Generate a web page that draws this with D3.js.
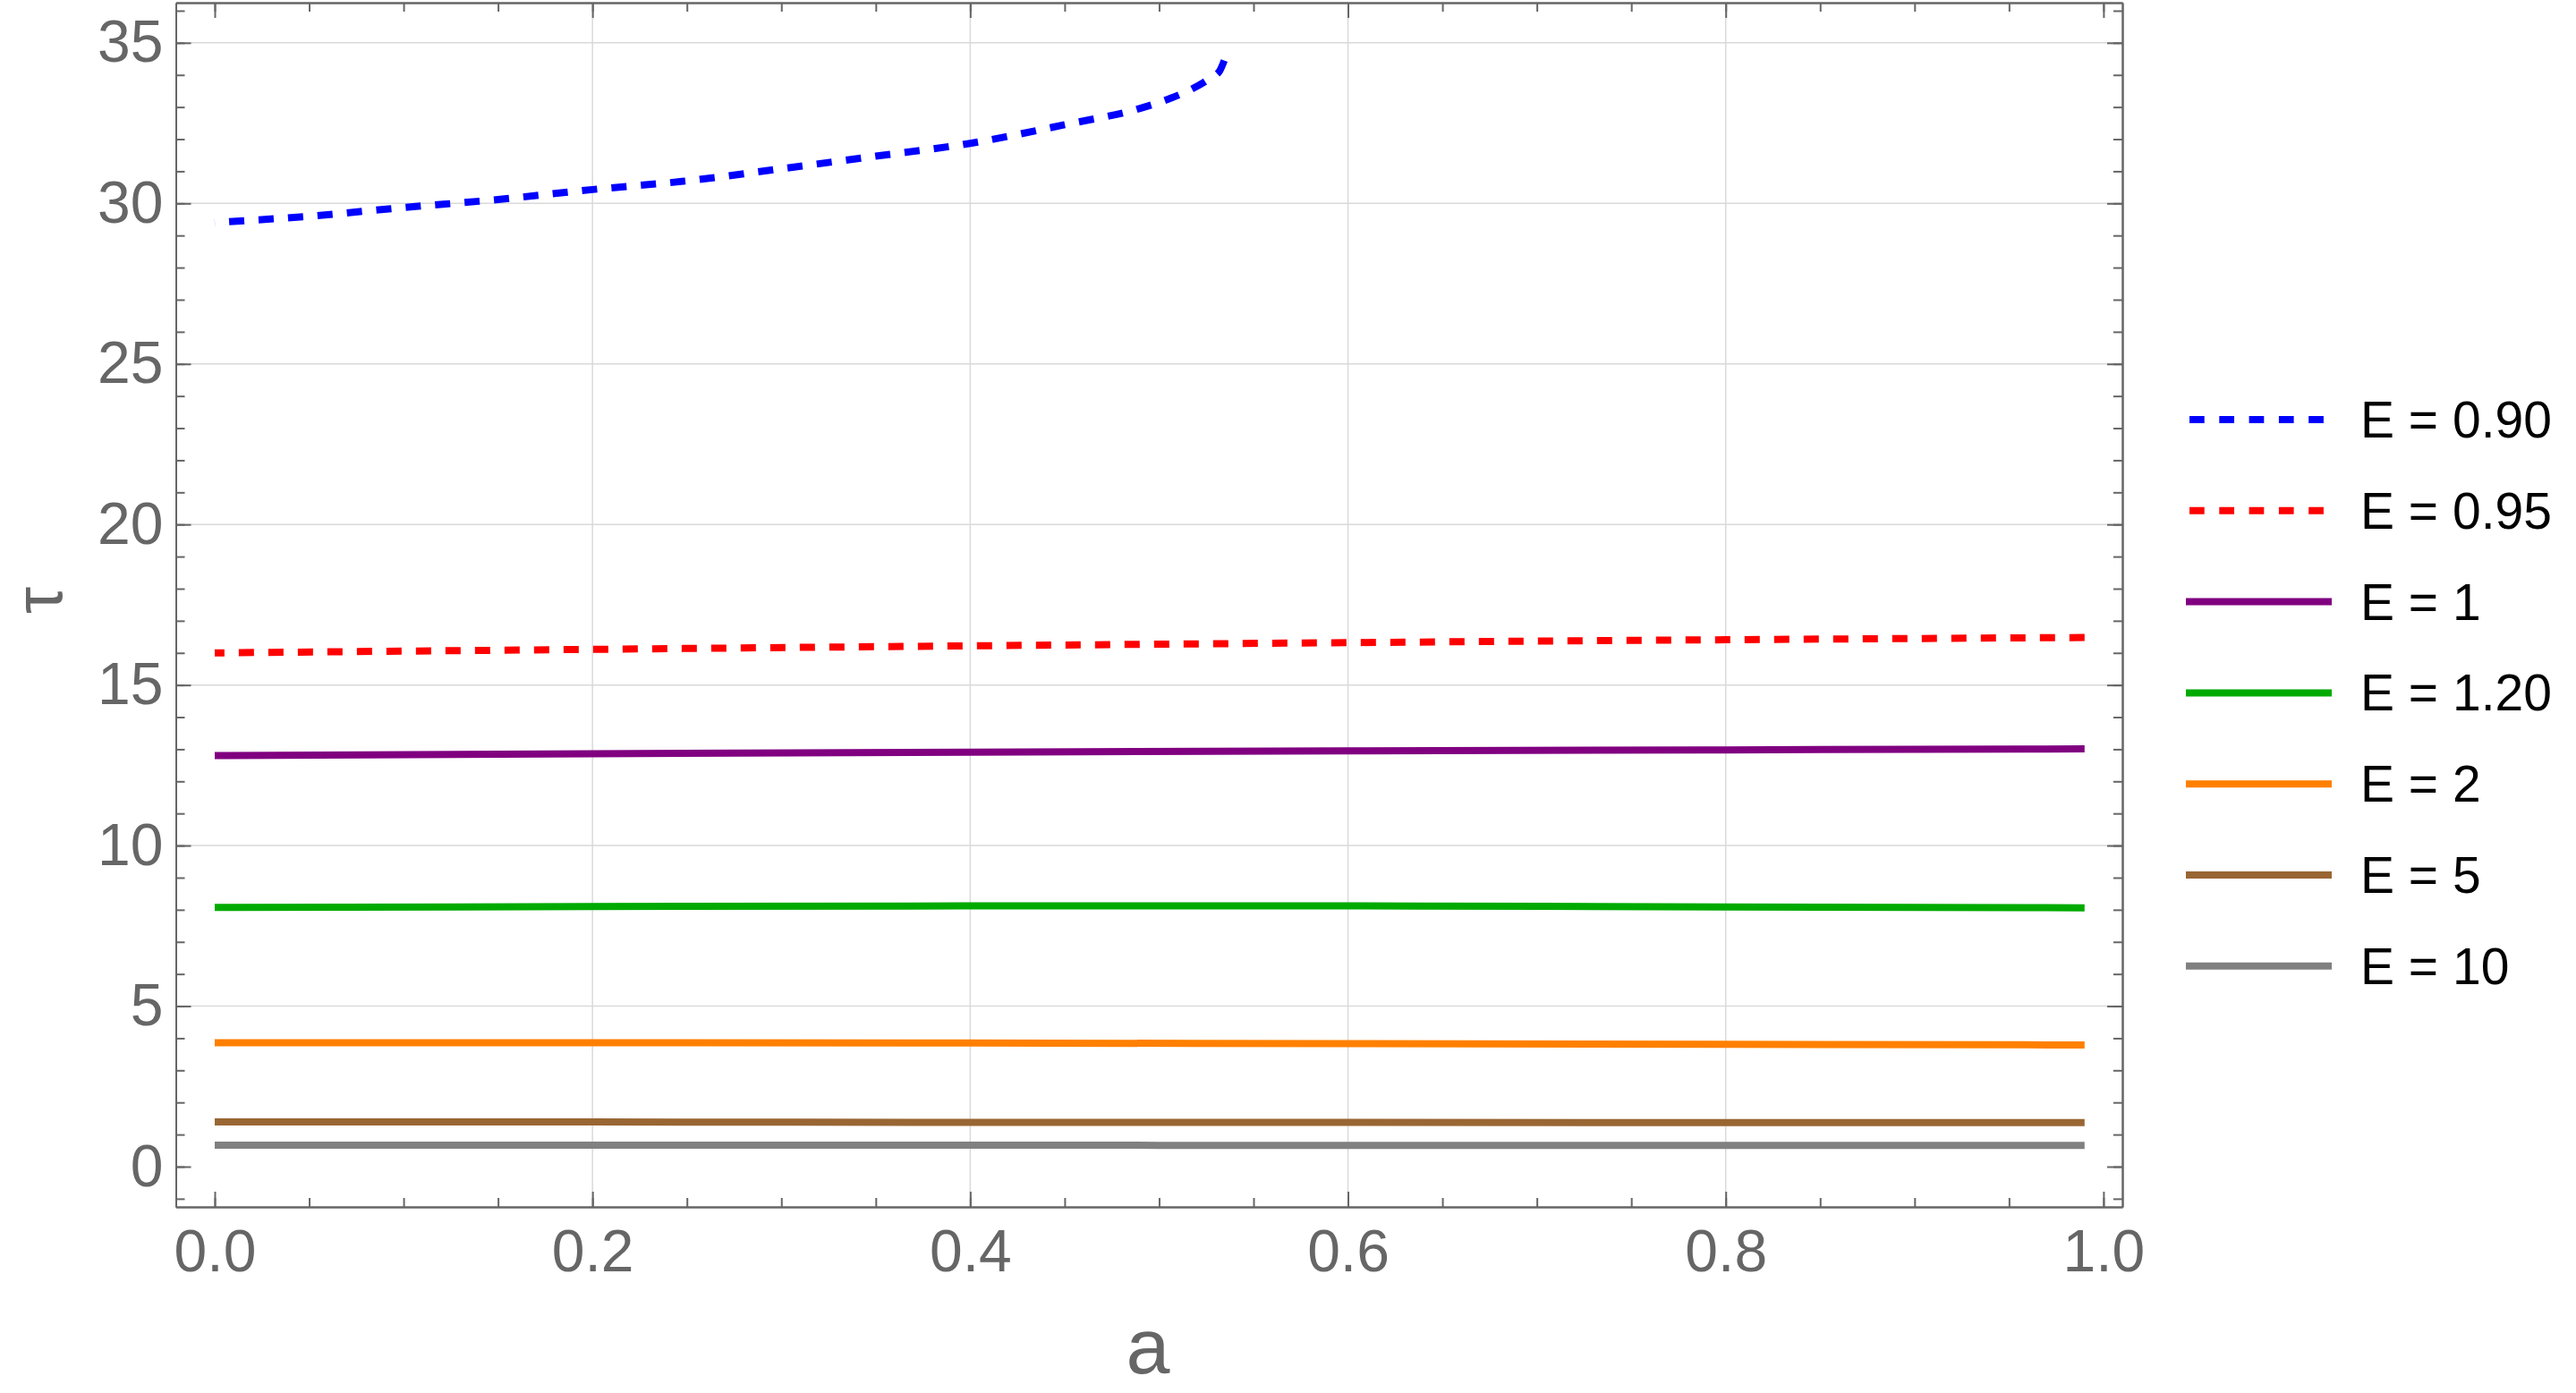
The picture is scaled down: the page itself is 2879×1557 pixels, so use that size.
<!DOCTYPE html>
<html>
<head>
<meta charset="utf-8">
<script src="https://cdn.jsdelivr.net/npm/d3@7"></script>
<style>
  body { margin: 0; background: #fff; }
  svg { display: block; }
  .axis path, .axis line { stroke: #666; stroke-width: 2; }
  .axis text { fill: #666; font-family: "Liberation Sans", Arial, sans-serif; font-size: 66px; }
  .grid line { stroke: #d9d9d9; stroke-width: 1.5; }
  .series { fill: none; stroke-width: 8; }
  .legend text { font-family: "Liberation Sans", Arial, sans-serif; font-size: 57px; fill: #000; }
</style>
</head>
<body>
<script>
// E = 0.90 has its own a-range (curve stops near a = 0.534)
var aE090 = [0, 0.05, 0.1, 0.15, 0.2, 0.25, 0.3, 0.35, 0.4, 0.45, 0.49, 0.505, 0.518, 0.527, 0.532, 0.5345];
var tauE090 = [29.4, 29.6, 29.87, 30.12, 30.43, 30.7, 31.08, 31.47, 31.87, 32.45, 32.96, 33.25, 33.58, 33.9, 34.12, 34.45];

// the other curves share these a values
var aValues = [0, 0.2, 0.4, 0.6, 0.8, 0.99];
var tauE095 = [16.0, 16.11, 16.22, 16.32, 16.41, 16.48];
var tauE1   = [12.8, 12.86, 12.91, 12.95, 12.98, 13.01];
var tauE120 = [8.07, 8.1, 8.12, 8.12, 8.09, 8.06];
var tauE2   = [3.86, 3.86, 3.85, 3.83, 3.81, 3.79];
var tauE5   = [1.39, 1.39, 1.38, 1.38, 1.37, 1.37];
var tauE10  = [0.67, 0.67, 0.67, 0.66, 0.66, 0.66];

var labels = ["E = 0.90", "E = 0.95", "E = 1", "E = 1.20", "E = 2", "E = 5", "E = 10"];
var colors = ["#0000ff", "#ff0000", "#800080", "#00aa00", "#ff8000", "#996633", "#808080"];
var dashed = [true, true, false, false, false, false, false];

var xTicks = [0, 0.2, 0.4, 0.6, 0.8, 1.0];
var yTicks = [0, 5, 10, 15, 20, 25, 30, 35];

function zip(xs, ys) {
  return xs.map(function(a, i) { return {a: a, tau: ys[i]}; });
}

var series = [
  zip(aE090, tauE090),
  zip(aValues, tauE095),
  zip(aValues, tauE1),
  zip(aValues, tauE120),
  zip(aValues, tauE2),
  zip(aValues, tauE5),
  zip(aValues, tauE10)
];

// frame of the plot
var W = 2879, H = 1557;
var frame = {left: 196.5, right: 2372, top: 3, bottom: 1349};

var x = d3.scaleLinear().domain([-0.0206, 1.01]).range([frame.left, frame.right]);
var y = d3.scaleLinear().domain([-1.254, 36.25]).range([frame.bottom, frame.top]);

var svg = d3.select("body").append("svg")
    .attr("width", W)
    .attr("height", H);

// grid lines
var grid = svg.append("g").attr("class", "grid");
grid.selectAll(".gx")
    .data([0.2, 0.4, 0.6, 0.8])
  .enter().append("line")
    .attr("x1", function(d) { return x(d); })
    .attr("x2", function(d) { return x(d); })
    .attr("y1", frame.top).attr("y2", frame.bottom);
grid.selectAll(".gy")
    .data([5, 10, 15, 20, 25, 30, 35])
  .enter().append("line")
    .attr("y1", function(d) { return y(d); })
    .attr("y2", function(d) { return y(d); })
    .attr("x1", frame.left).attr("x2", frame.right);

// minor ticks
var xMinor = d3.range(0, 21).map(function(i) { return i * 0.05; });
var yMinor = d3.range(-1, 37);

svg.append("g").attr("class", "axis")
    .attr("transform", "translate(0," + frame.bottom + ")")
    .call(d3.axisBottom(x).tickValues(xMinor).tickSizeInner(-10).tickSizeOuter(0).tickFormat(""));
svg.append("g").attr("class", "axis")
    .attr("transform", "translate(0," + frame.top + ")")
    .call(d3.axisTop(x).tickValues(xMinor).tickSizeInner(-10).tickSizeOuter(0).tickFormat(""));
svg.append("g").attr("class", "axis")
    .attr("transform", "translate(" + frame.left + ",0)")
    .call(d3.axisLeft(y).tickValues(yMinor).tickSizeInner(-10).tickSizeOuter(0).tickFormat(""));
svg.append("g").attr("class", "axis")
    .attr("transform", "translate(" + frame.right + ",0)")
    .call(d3.axisRight(y).tickValues(yMinor).tickSizeInner(-10).tickSizeOuter(0).tickFormat(""));

// major ticks with labels
svg.append("g").attr("class", "axis")
    .attr("transform", "translate(0," + frame.bottom + ")")
    .call(d3.axisBottom(x).tickValues(xTicks).tickSizeInner(-17).tickSizeOuter(0)
      .tickPadding(25).tickFormat(d3.format(".1f")));
svg.append("g").attr("class", "axis")
    .attr("transform", "translate(0," + frame.top + ")")
    .call(d3.axisTop(x).tickValues(xTicks).tickSizeInner(-17).tickSizeOuter(0).tickFormat(""));
svg.append("g").attr("class", "axis")
    .attr("transform", "translate(" + frame.left + ",0)")
    .call(d3.axisLeft(y).tickValues(yTicks).tickSizeInner(-17).tickSizeOuter(0)
      .tickPadding(14));
svg.append("g").attr("class", "axis")
    .attr("transform", "translate(" + frame.right + ",0)")
    .call(d3.axisRight(y).tickValues(yTicks).tickSizeInner(-17).tickSizeOuter(0).tickFormat(""));

// the curves
var line = d3.line()
    .x(function(d) { return x(d.a); })
    .y(function(d) { return y(d.tau); })
    .curve(d3.curveMonotoneX);

var dash = 17, gap = 16;

series.forEach(function(data, i) {
  var path = svg.append("path")
     .attr("class", "series")
     .style("stroke", colors[i])
     .attr("d", line(data));
  if (dashed[i]) {
    // shift the pattern so the curve ends inside a dash (keeps the hook at the end visible)
    var len = path.node().getTotalLength();
    var offset = ((dash - len) % (dash + gap) + (dash + gap)) % (dash + gap);
    path.style("stroke-dasharray", dash + "," + gap)
        .style("stroke-dashoffset", offset);
  }
});

// axis titles
svg.append("text")
   .attr("x", 1283)
   .attr("y", 1535)
   .attr("text-anchor", "middle")
   .style("font-family", "'Liberation Sans', Arial, sans-serif")
   .style("font-size", "88px")
   .style("fill", "#666")
   .text("a");

svg.append("text")
   .attr("transform", "translate(69,671) rotate(-90)")
   .attr("text-anchor", "middle")
   .style("font-family", "'Liberation Sans', Arial, sans-serif")
   .style("font-size", "76px")
   .style("fill", "#666")
   .text("τ");

// legend
var legend = svg.append("g").attr("class", "legend");
labels.forEach(function(label, i) {
  var ly = 469 + i * 101.8;
  if (dashed[i]) {
    legend.append("line")
      .attr("x1", 2447).attr("x2", 2597)
      .attr("y1", ly).attr("y2", ly)
      .style("stroke", colors[i])
      .style("stroke-width", 8)
      .style("stroke-dasharray", "16.7,16.6");
  } else {
    legend.append("line")
      .attr("x1", 2443).attr("x2", 2606)
      .attr("y1", ly).attr("y2", ly)
      .style("stroke", colors[i])
      .style("stroke-width", 8);
  }
  legend.append("text")
    .attr("x", 2638)
    .attr("y", ly + 20)
    .text(label);
});
</script>
</body>
</html>
